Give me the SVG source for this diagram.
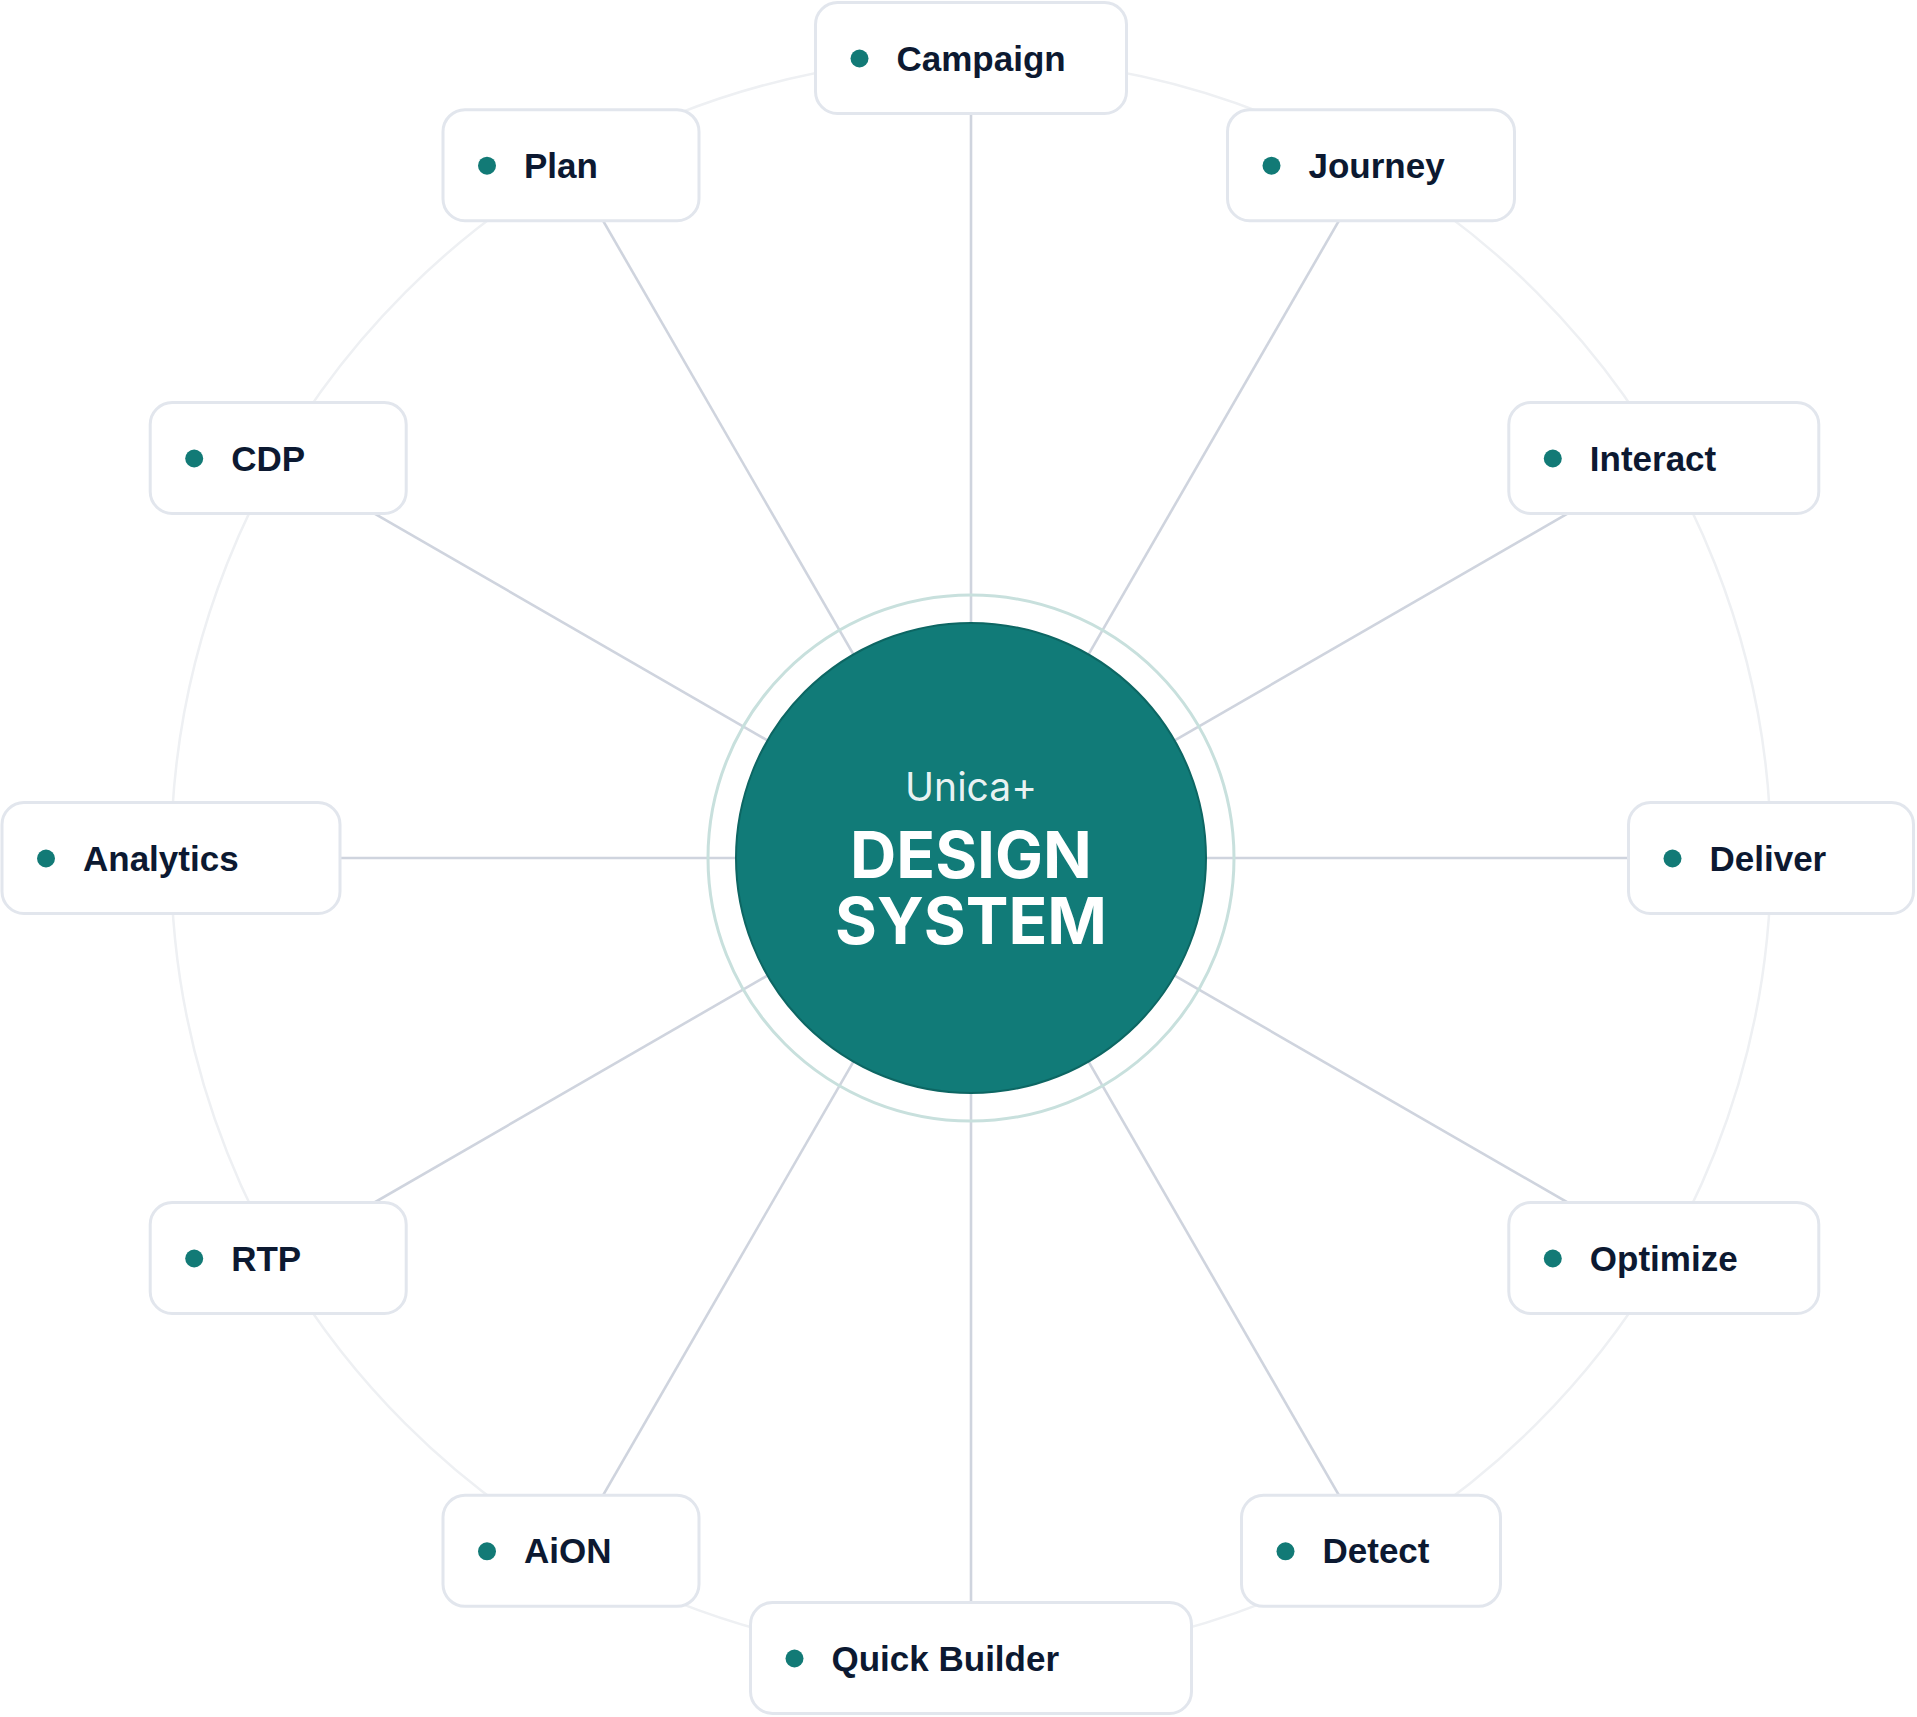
<svg xmlns="http://www.w3.org/2000/svg" width="1917" height="1717" viewBox="0 0 1917 1717">
<style>
.box{fill:#ffffff;stroke:#e2e6ed;stroke-width:3}
.dot{fill:#127a76}
.lbl{font-family:"Liberation Sans",Arial,sans-serif;font-weight:bold;font-size:35px;fill:#0c1931}
.conn{stroke:#cfd4de;stroke-width:2.6;fill:none}
.ctr{font-family:Inter,"Liberation Sans",sans-serif;text-anchor:middle;fill:#ffffff}
</style>
<rect width="1917" height="1717" fill="#ffffff"/>
<circle id="orbit" cx="971" cy="858" r="800" fill="none" stroke="#eef0f3" stroke-width="2.5"/>
<g id="connectors">
<line class="conn" x1="971" y1="858" x2="971" y2="58"/>
<line class="conn" x1="971" y1="858" x2="1371" y2="165.2"/>
<line class="conn" x1="971" y1="858" x2="1663.8" y2="458"/>
<line class="conn" x1="971" y1="858" x2="1771" y2="858"/>
<line class="conn" x1="971" y1="858" x2="1663.8" y2="1258"/>
<line class="conn" x1="971" y1="858" x2="1371" y2="1550.8"/>
<line class="conn" x1="971" y1="858" x2="971" y2="1658"/>
<line class="conn" x1="971" y1="858" x2="571" y2="1550.8"/>
<line class="conn" x1="971" y1="858" x2="278.2" y2="1258"/>
<line class="conn" x1="971" y1="858" x2="171" y2="858"/>
<line class="conn" x1="971" y1="858" x2="278.2" y2="458"/>
<line class="conn" x1="971" y1="858" x2="571" y2="165.2"/>
</g>
<g id="hub">
<circle cx="971" cy="858" r="263" fill="none" stroke="#c8e0dd" stroke-width="3"/>
<circle cx="971" cy="858" r="235" fill="#117b78" stroke="#0d6663" stroke-width="2"/>
<text class="ctr" x="971" y="801" font-size="39" fill-opacity="0.92">Unica+</text>
<text class="ctr" font-size="64" font-weight="bold"><tspan x="971" y="878">DESIGN</tspan><tspan x="971" y="944">SYSTEM</tspan></text>
</g>
<g id="node-campaign" transform="translate(815.5,2.5)"><rect class="box" width="311" height="111" rx="22"/><circle class="dot" cx="44" cy="56" r="9"/><text class="lbl" x="81" y="68">Campaign</text></g>
<g id="node-journey" transform="translate(1227.5,109.7)"><rect class="box" width="287" height="111" rx="22"/><circle class="dot" cx="44" cy="56" r="9"/><text class="lbl" x="81" y="68">Journey</text></g>
<g id="node-interact" transform="translate(1508.8,402.5)"><rect class="box" width="310" height="111" rx="22"/><circle class="dot" cx="44" cy="56" r="9"/><text class="lbl" x="81" y="68">Interact</text></g>
<g id="node-deliver" transform="translate(1628.5,802.5)"><rect class="box" width="285" height="111" rx="22"/><circle class="dot" cx="44" cy="56" r="9"/><text class="lbl" x="81" y="68">Deliver</text></g>
<g id="node-optimize" transform="translate(1508.8,1202.5)"><rect class="box" width="310" height="111" rx="22"/><circle class="dot" cx="44" cy="56" r="9"/><text class="lbl" x="81" y="68">Optimize</text></g>
<g id="node-detect" transform="translate(1241.5,1495.3)"><rect class="box" width="259" height="111" rx="22"/><circle class="dot" cx="44" cy="56" r="9"/><text class="lbl" x="81" y="68">Detect</text></g>
<g id="node-quickbuilder" transform="translate(750.5,1602.5)"><rect class="box" width="441" height="111" rx="22"/><circle class="dot" cx="44" cy="56" r="9"/><text class="lbl" x="81" y="68">Quick Builder</text></g>
<g id="node-aion" transform="translate(443,1495.3)"><rect class="box" width="256" height="111" rx="22"/><circle class="dot" cx="44" cy="56" r="9"/><text class="lbl" x="81" y="68">AiON</text></g>
<g id="node-rtp" transform="translate(150.2,1202.5)"><rect class="box" width="256" height="111" rx="22"/><circle class="dot" cx="44" cy="56" r="9"/><text class="lbl" x="81" y="68">RTP</text></g>
<g id="node-analytics" transform="translate(2,802.5)"><rect class="box" width="338" height="111" rx="22"/><circle class="dot" cx="44" cy="56" r="9"/><text class="lbl" x="81" y="68">Analytics</text></g>
<g id="node-cdp" transform="translate(150.2,402.5)"><rect class="box" width="256" height="111" rx="22"/><circle class="dot" cx="44" cy="56" r="9"/><text class="lbl" x="81" y="68">CDP</text></g>
<g id="node-plan" transform="translate(443,109.7)"><rect class="box" width="256" height="111" rx="22"/><circle class="dot" cx="44" cy="56" r="9"/><text class="lbl" x="81" y="68">Plan</text></g>
</svg>
